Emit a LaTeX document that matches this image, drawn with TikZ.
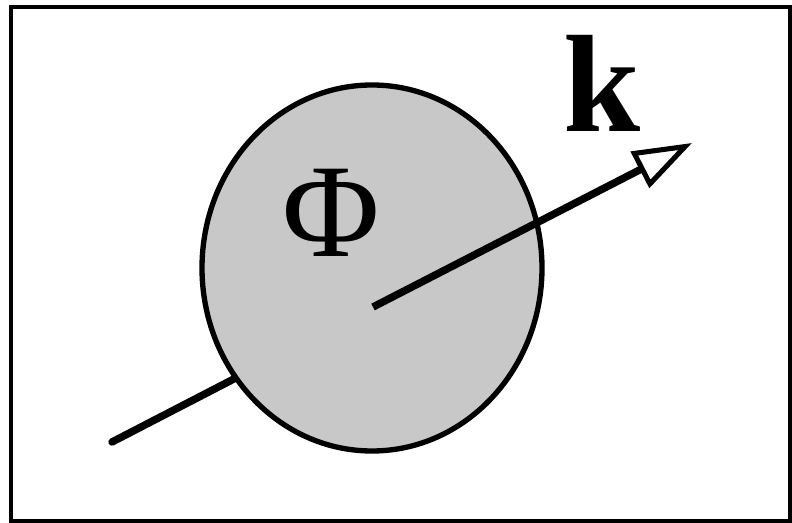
\documentclass[tikz,border=0pt]{standalone}
\usepackage{fontspec}
\setmainfont{Liberation Serif}
\usepackage{tikz}
\usetikzlibrary{arrows.meta, positioning, calc, shapes.geometric}
\definecolor{phgray}{RGB}{200,200,200}
\definecolor{phdark}{RGB}{0,0,0}

\begin{document}
\begin{tikzpicture}[x=0.75pt, y=-0.75pt]
\useasboundingbox (0,0) rectangle (792,523);
% ---- outer frame ----
\fill[white] (0,0) rectangle (792,523);
\draw[phdark, line width=3pt] (11,7) rectangle (790,521);

% ---- wave vector, part behind the disk ----
\coordinate (ktail) at (112,442);
\coordinate (kstart) at (373,307);
\coordinate (ktip) at (692,143);
\draw[phdark, line width=5.6pt, line cap=round] (ktail) -- (kstart);

% ---- disk ----
\node[ellipse, draw=phdark, fill=phgray, line width=4pt,
  minimum width=255pt, minimum height=274.5pt, inner sep=0pt]
  (disk) at (372,268) {};

% ---- wave vector, front part ----
\draw[phdark, line width=5.6pt,
  -{Triangle[open, length=44pt, width=30pt, line width=3.8pt]}]
  (kstart) -- (ktip);

% labels
\node[font=\fontsize{100}{100}\selectfont, color=phdark, anchor=base, inner sep=0pt]
  (phi) at (331,257) {Φ};
\node[font=\fontsize{104}{104}\selectfont\bfseries, color=phdark, anchor=base, inner sep=0pt]
  (klab) at (602,132) {k};
\end{tikzpicture}
\end{document}
